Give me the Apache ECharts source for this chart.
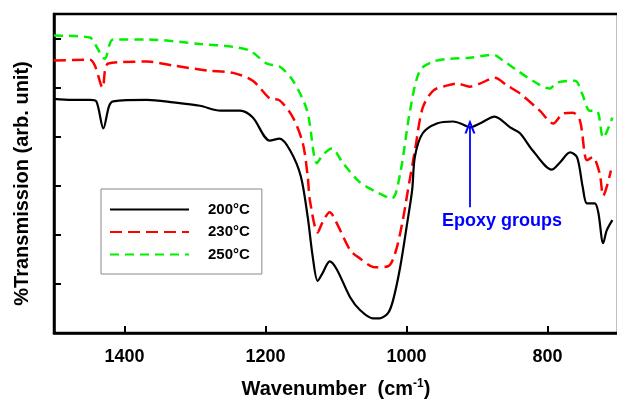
<!DOCTYPE html>
<html>
<head>
<meta charset="utf-8">
<script src="https://cdn.jsdelivr.net/npm/echarts@6/dist/echarts.min.js"></script>
<style>
  html, body { margin: 0; padding: 0; background: #fff; }
  #chart { width: 617px; height: 403px; }
</style>
</head>
<body>
<div id="chart"></div>
<script>
// FTIR spectra, wavenumber (cm-1) vs transmission (arb. offsets)
const wn200 = [1500, 1475, 1449, 1440, 1430, 1422, 1416, 1368, 1331, 1293, 1264, 1236, 1218, 1194, 1180, 1165, 1150, 1140, 1133, 1126, 1119, 1109, 1099, 1080, 1066, 1048, 1038, 1026, 1019, 1009, 999, 992, 988, 977, 957, 934, 920, 910, 896, 875, 853, 839, 821, 794, 782, 768, 758, 750, 744, 733, 728, 721, 716, 708];
const t200 = [4.77, 4.75, 4.75, 4.72, 4.17, 4.62, 4.72, 4.75, 4.70, 4.63, 4.53, 4.53, 4.39, 3.92, 3.96, 3.72, 3.20, 2.35, 1.55, 1.06, 1.22, 1.46, 1.30, 0.73, 0.47, 0.30, 0.30, 0.41, 0.67, 1.34, 2.24, 2.91, 3.60, 4.07, 4.27, 4.31, 4.25, 4.19, 4.27, 4.41, 4.19, 4.07, 3.72, 3.33, 3.48, 3.68, 3.58, 2.97, 2.64, 2.64, 2.46, 1.83, 2.09, 2.30];

const wn230 = [1500, 1449, 1442, 1431, 1423, 1368, 1331, 1283, 1246, 1218, 1194, 1180, 1161, 1147, 1140, 1137, 1126, 1119, 1109, 1099, 1080, 1066, 1045, 1026, 1016, 1006, 998, 988, 977, 962, 943, 928, 910, 896, 875, 857, 839, 811, 792, 778, 764, 754, 744, 736, 726, 721, 710];
const t230 = [5.55, 5.57, 5.45, 5.00, 5.49, 5.53, 5.45, 5.35, 5.30, 5.14, 4.78, 4.74, 4.39, 3.86, 3.17, 2.70, 2.05, 2.26, 2.46, 2.24, 1.69, 1.52, 1.34, 1.36, 1.63, 2.24, 2.91, 3.72, 4.59, 4.94, 5.04, 5.08, 5.02, 5.08, 5.20, 5.04, 4.88, 4.53, 4.27, 4.47, 4.49, 4.33, 3.52, 3.58, 3.25, 2.80, 3.31];

const wn250 = [1500, 1449, 1442, 1428, 1416, 1368, 1293, 1246, 1222, 1198, 1180, 1161, 1141, 1127, 1119, 1106, 1090, 1066, 1042, 1021, 1009, 995, 981, 962, 938, 910, 877, 863, 843, 821, 797, 787, 761, 751, 740, 730, 721, 708];
const t250 = [6.06, 6.02, 5.89, 5.59, 5.98, 5.98, 5.89, 5.83, 5.75, 5.49, 5.43, 5.14, 4.53, 3.46, 3.62, 3.76, 3.46, 3.07, 2.87, 2.74, 3.25, 4.53, 5.35, 5.53, 5.59, 5.61, 5.67, 5.55, 5.35, 5.14, 4.98, 5.10, 5.14, 4.88, 4.53, 4.53, 3.98, 4.39];

const seriesNames = ['200°C', '230°C', '250°C'];
const xTicks = [1400, 1200, 1000, 800];

// arrow for the epoxy band
const epoxyWn = 910;
const epoxyArrow = [2.56, 4.21];

const zip = (xs, ys) => xs.map((x, i) => [x, ys[i]]);

const chart = echarts.init(document.getElementById('chart'));

const font = 'Arial, "Liberation Sans", sans-serif';

const option = {
  animation: false,
  backgroundColor: '#fff',
  title: {
    text: 'Epoxy groups',
    left: 442,
    top: 212,
    padding: 0,
    textStyle: { color: '#0000ff', fontFamily: font, fontWeight: 'bold', fontSize: 18 }
  },
  grid: {
    left: 54,
    top: 14,
    width: 564,
    bottom: 70,
    outerBoundsMode: 'none',
    containLabel: false,
    show: true,
    borderColor: '#000',
    borderWidth: 2.5,
    backgroundColor: 'transparent'
  },
  legend: {
    orient: 'vertical',
    left: 101,
    top: 189,
    padding: [13, 12, 12, 8],
    itemWidth: 79,
    itemHeight: 14,
    itemGap: 7.5,
    borderColor: '#888',
    borderWidth: 1,
    backgroundColor: '#fff',
    data: seriesNames,
    itemStyle: { opacity: 0 },
    textStyle: {
      color: '#000',
      fontFamily: font,
      fontWeight: 'bold',
      fontSize: 15,
      padding: [0, 0, 0, 14]
    }
  },
  xAxis: {
    type: 'value',
    inverse: true,
    min: 700,
    max: 1500,
    name: 'Wavenumber  (cm{sup|-1})',
    nameLocation: 'middle',
    nameGap: 45,
    nameTextStyle: {
      color: '#000',
      fontFamily: font,
      fontWeight: 'bold',
      fontSize: 20,
      rich: {
        sup: { fontFamily: font, fontWeight: 'bold', fontSize: 12, verticalAlign: 'top', padding: [0, 0, 10, 0] }
      }
    },
    axisLine: { lineStyle: { color: '#000', width: 2.5 } },
    axisTick: { inside: true, length: 7, customValues: xTicks, lineStyle: { color: '#000', width: 2 } },
    axisLabel: {
      customValues: xTicks,
      formatter: (v) => String(v),
      margin: 15,
      color: '#000',
      fontFamily: font,
      fontWeight: 'bold',
      fontSize: 18
    },
    splitLine: { show: false }
  },
  yAxis: {
    type: 'value',
    min: 0,
    max: 6.5,
    interval: 1,
    name: '%Transmission (arb. unit)',
    nameLocation: 'middle',
    nameGap: 22,
    nameTextStyle: {
      color: '#000',
      fontFamily: font,
      fontWeight: 'bold',
      fontSize: 20,
      padding: [0, 20, 0, 0]
    },
    axisLine: { lineStyle: { color: '#000', width: 2.5 } },
    axisTick: { inside: true, length: 7, lineStyle: { color: '#000', width: 2 } },
    axisLabel: { show: false },
    splitLine: { show: false }
  },
  series: [
    {
      name: seriesNames[0],
      type: 'line',
      data: zip(wn200, t200),
      symbol: 'none',
      smooth: 0.3,
      lineStyle: { color: '#000', width: 2.2 },
      itemStyle: { color: '#000' },
      z: 4,
      markLine: {
        silent: true,
        symbol: ['none', 'path://M5,0 L10,12 L8,12 L5,4.6 L2,12 L0,12 Z'],
        symbolSize: [11, 14],
        label: { show: false },
        lineStyle: { color: '#0000ff', width: 1.8, type: 'solid' },
        data: [[
          { coord: [epoxyWn, epoxyArrow[0]] },
          { coord: [epoxyWn, epoxyArrow[1]] }
        ]]
      }
    },
    {
      name: seriesNames[1],
      type: 'line',
      data: zip(wn230, t230),
      symbol: 'none',
      smooth: 0.3,
      lineStyle: { color: '#ff0000', width: 2.5, type: [12, 6] },
      itemStyle: { color: '#ff0000' },
      z: 3
    },
    {
      name: seriesNames[2],
      type: 'line',
      data: zip(wn250, t250),
      symbol: 'none',
      smooth: 0.3,
      lineStyle: { color: '#00f000', width: 2.5, type: [9, 6] },
      itemStyle: { color: '#00f000' },
      z: 2
    }
  ]
};

chart.setOption(option);
</script>
</body>
</html>
